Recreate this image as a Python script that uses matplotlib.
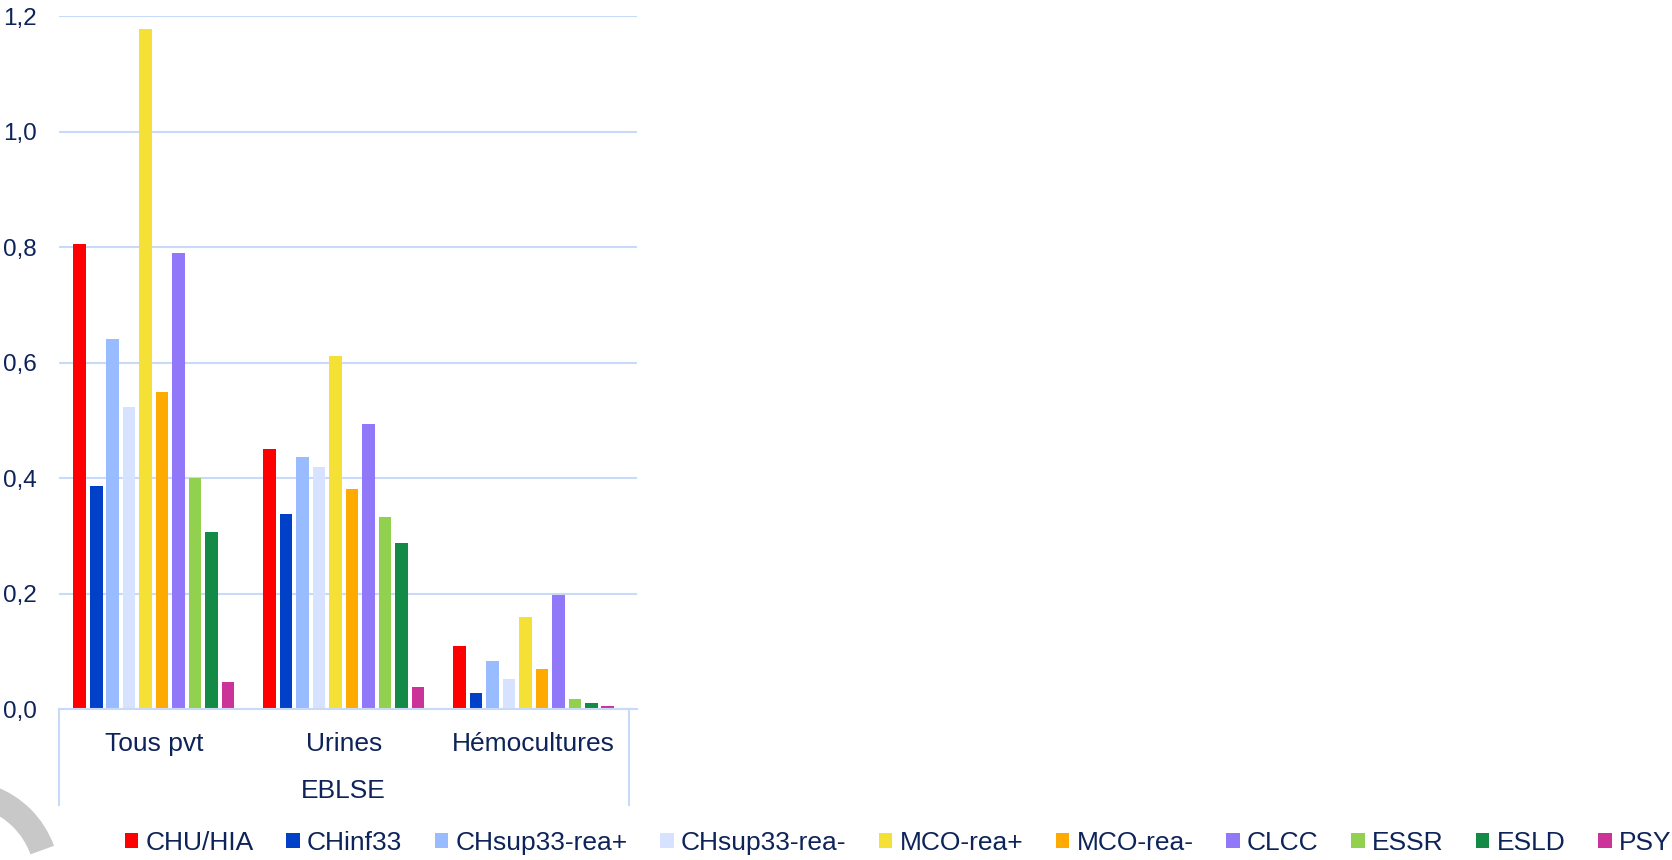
import matplotlib
matplotlib.use("Agg")
import matplotlib.pyplot as plt
import numpy as np
from matplotlib.patches import Wedge
from matplotlib.ticker import FuncFormatter

plt.rcParams['font.family'] = ['Liberation Sans', 'DejaVu Sans']

categories = ["Tous pvt", "Urines", "Hémocultures"]
group_label = "EBLSE"
series_names = ["CHU/HIA", "CHinf33", "CHsup33-rea+", "CHsup33-rea-", "MCO-rea+",
                "MCO-rea-", "CLCC", "ESSR", "ESLD", "PSY"]
chu_hia = [0.806, 0.450, 0.110]
chinf33 = [0.387, 0.338, 0.028]
chsup33_rea_plus = [0.641, 0.437, 0.084]
chsup33_rea_minus = [0.523, 0.419, 0.052]
mco_rea_plus = [1.177, 0.612, 0.160]
mco_rea_minus = [0.550, 0.381, 0.070]
clcc = [0.790, 0.493, 0.197]
essr = [0.400, 0.332, 0.017]
esld = [0.307, 0.287, 0.011]
psy = [0.047, 0.039, 0.006]
yticks = [0.0, 0.2, 0.4, 0.6, 0.8, 1.0, 1.2]

series = [chu_hia, chinf33, chsup33_rea_plus, chsup33_rea_minus, mco_rea_plus,
          mco_rea_minus, clcc, essr, esld, psy]
colors = ["#FF0000", "#0041C8", "#99BBFF", "#D6E2FF", "#F5E035",
          "#FFAA00", "#9078F8", "#92D050", "#138A45", "#CC3399"]

text_color = "#0D2359"
grid_color = "#C9DAF8"

W, H = 1672, 860
fig = plt.figure(figsize=(W / 100, H / 100), dpi=100)

# decorative grey arc at bottom-left
deco = fig.add_axes([0, 0, 1, 1])
deco.set_xlim(0, W)
deco.set_ylim(0, H)
deco.axis('off')
deco.add_patch(Wedge((-40, -20), 100, 20, 120, width=25, facecolor="#C8C8C8", edgecolor="none"))

left, right = 58.9 / W, 636.6 / W
bottom, top = 1 - 709.3 / H, 1 - 16 / H
ax = fig.add_axes([left, bottom, right - left, top - bottom])

x = np.arange(len(categories))
pitch = 0.0868
bw = 0.067
n = len(series)
for i, (vals, c, name) in enumerate(zip(series, colors, series_names)):
    offs = (i - (n - 1) / 2) * pitch
    ax.bar(x + offs, vals, width=bw, color=c, label=name, zorder=3)

ax.set_ylim(0, 1.2)
ax.set_xlim(-0.5, 2.5 + 8 / 190)
ax.set_yticks(yticks)
ax.yaxis.set_major_formatter(FuncFormatter(lambda v, p: f"{v:.1f}".replace(".", ",")))
ax.grid(axis='y', color=grid_color, linewidth=1.5, zorder=0)
ax.set_axisbelow(True)
for s in ['top', 'right', 'left']:
    ax.spines[s].set_visible(False)
ax.spines['bottom'].set_color(grid_color)
ax.spines['bottom'].set_linewidth(1.5)
ax.spines['bottom'].set_zorder(4)

ax.tick_params(axis='y', length=0, pad=16, labelsize=17.5, labelcolor=text_color)
ax.set_xticks(x)
ax.set_xticklabels(categories)
ax.tick_params(axis='x', length=0, pad=16, labelsize=19, labelcolor=text_color)

trans = ax.get_xaxis_transform()
ybot = -(805 - 709.3) / 693.3
for xv in (-0.5, 2.5):
    ax.plot([xv, xv], [0, ybot], transform=trans, color=grid_color, lw=1.5, clip_on=False)
ax.text(1, -(791 - 709.3) / 693.3, group_label, transform=trans, ha='center', va='center',
        fontsize=19, color=text_color)

handles, labels = ax.get_legend_handles_labels()
leg = fig.legend(handles, labels, loc='center', bbox_to_anchor=(898 / W, 1 - 843 / H),
                 ncol=10, frameon=False, fontsize=19, handlelength=0.5, handleheight=0.5,
                 handletextpad=0.27, columnspacing=1.25, borderpad=0, borderaxespad=0)
for t in leg.get_texts():
    t.set_color(text_color)

fig.savefig("out.png", dpi=100)
